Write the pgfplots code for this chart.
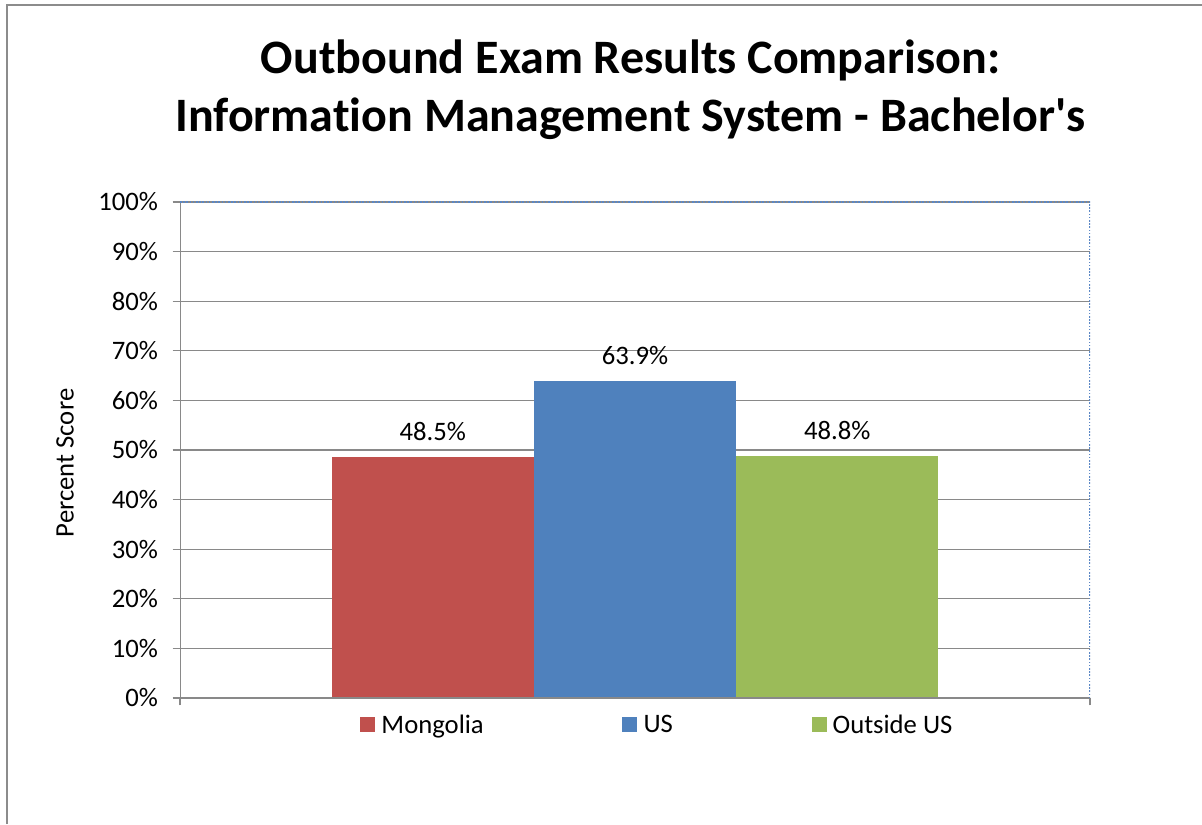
\documentclass[border=0pt]{standalone}
\usepackage{pgfplots}
\pgfplotsset{compat=1.18}
\usepackage{fontspec}
\setmainfont{Carlito}[Ligatures={TeXOff,CommonOff}]
\definecolor{cRed}{HTML}{C0504D}
\definecolor{cBlue}{HTML}{4F81BD}
\definecolor{cGreen}{HTML}{9BBB59}
\definecolor{gridgray}{HTML}{898989}
\definecolor{framegray}{HTML}{8C8C8C}
\definecolor{dotblue}{HTML}{5B87C5}
\begin{document}
\begin{tikzpicture}
\useasboundingbox (0,0) rectangle (901.5pt,618pt);
\fill[white] (0,0) rectangle (901.5pt,618pt);
\draw[framegray, line width=1.3pt] (5pt,0) -- (5pt,614pt) -- (901.5pt,614pt);
\node[font=\bfseries\fontsize{36}{44}\selectfont, anchor=base, inner sep=0pt] at (472.9pt,563pt)
  {Outbound Exam Results Comparison:};
\node[font=\bfseries\fontsize{36}{44}\selectfont, anchor=base, inner sep=0pt] at (472.9pt,519pt)
  {Information Management System - Bachelor's};
\begin{axis}[
  at={(135pt,94.5pt)}, anchor=south west,
  scale only axis, width=682.5pt, height=372pt,
  xmin=-1.25, xmax=3.25, ymin=0, ymax=100,
  ytick={0,10,...,100},
  yticklabel={\pgfmathprintnumber{\tick}\%},
  xtick={-1.25,3.25}, xticklabels={,},
  /pgf/number format/assume math mode=true,
  axis line style={draw=none},
  ymajorgrids, grid style={color=gridgray, line width=0.9pt},
  tick align=outside, major tick length=5.5pt,
  tick style={color=gridgray, line width=0.9pt},
  ytick pos=left, xtick pos=bottom,
  ticklabel style={font=\fontsize{20}{24}\selectfont},
  yticklabel style={xshift=-7.5pt},
  ylabel={Percent Score},
  ylabel style={font=\fontsize{20}{24}\selectfont, at={(axis description cs:-0.1264,0.474)}, anchor=center},
  nodes near coords={\pgfmathprintnumber[fixed,fixed zerofill,precision=1]{\pgfplotspointmeta}\%},
  nodes near coords style={font=\fontsize{20}{24}\selectfont, anchor=south, yshift=9pt},
  legend style={at={(axis description cs:0.525,-0.054)}, anchor=center, draw=none,
    font=\fontsize{20}{24}\selectfont, legend columns=3,
    /tikz/every even column/.append style={column sep=102pt}},
  legend image code/.code={\fill[#1] (0pt,-5.6pt) rectangle (11.25pt,5.6pt); \path (13.8pt,0pt);},
]
\addplot[ybar, bar width=1, bar shift=0pt, fill=cRed, draw=none] coordinates {(0,48.5)};
\addlegendentry{Mongolia}
\addplot[ybar, bar width=1, bar shift=0pt, fill=cBlue, draw=none] coordinates {(1,63.9)};
\addlegendentry{US}
\addplot[ybar, bar width=1, bar shift=0pt, fill=cGreen, draw=none] coordinates {(2,48.8)};
\addlegendentry{Outside US}
\draw[gridgray, line width=0.9pt] (rel axis cs:0,0) -- (rel axis cs:0,1);
\draw[gridgray, line width=0.9pt] (rel axis cs:0,0) -- (rel axis cs:1,0);
\draw[dotblue, line width=1pt, dash pattern=on 1.2pt off 1.2pt] (rel axis cs:0,1) -- (rel axis cs:1,1) -- (rel axis cs:1,0);
\end{axis}
\end{tikzpicture}
\end{document}
